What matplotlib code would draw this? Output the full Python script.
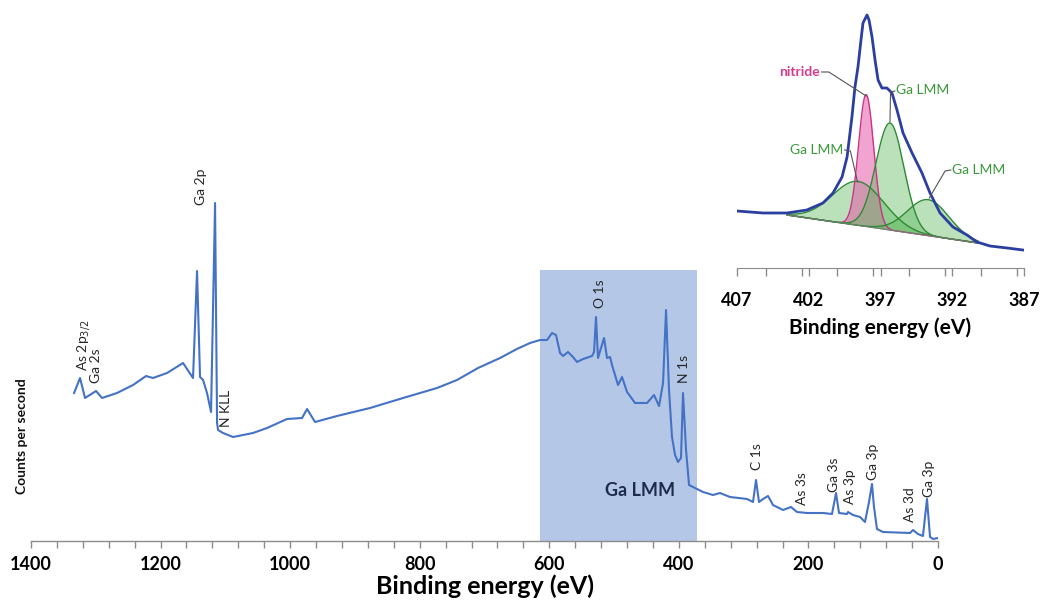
import numpy as np
import matplotlib
matplotlib.use("Agg")
import matplotlib.pyplot as plt
from matplotlib.ticker import MultipleLocator

plt.rcParams['font.family'] = ['Lato', 'DejaVu Sans']

# ---------------- main survey spectrum ----------------
survey_ev = [1333.5, 1324.3, 1316.6, 1299.6, 1290.3, 1267.2, 1242.5, 1222.4, 1211.6, 1190.0,
             1165.3, 1149.9, 1143.7, 1139.1, 1134.4, 1128.3, 1122.1, 1115.9, 1112.8, 1111.3,
             1103.6, 1088.1, 1057.3, 1035.7, 1004.8, 981.6, 973.9, 961.6, 927.6, 876.7,
             825.7, 773.3, 742.4, 710.0, 676.0, 650.0, 629.7, 614.3, 603.5, 595.8, 589.6, 583.4,
             578.8, 571.1, 563.4, 557.2, 547.9, 534.0, 530.9, 527.9, 524.8, 515.5,
             510.9, 506.2, 503.2, 493.9, 487.7, 480.0, 475.4, 467.7, 449.1, 438.3,
             430.6, 424.4, 419.8, 415.2, 410.6, 405.9, 401.3, 396.7, 393.6, 388.9,
             384.3, 375.1, 362.7, 347.3, 336.5, 321.0, 294.8, 285.5, 280.9, 276.3,
             270.1, 262.4, 254.7, 239.2, 226.9, 217.6, 202.2, 177.5, 163.6, 157.4,
             152.8, 140.5, 138.9, 131.2, 120.4, 112.7, 106.5, 101.9, 98.8, 94.2,
             84.9, 43.2, 38.6, 30.9, 23.2, 17.0, 12.3, 7.7, 0.0]
survey_cps = [14800, 16300, 14300, 15000, 14300, 14800, 15600, 16500, 16300, 16800,
              17800, 16300, 27000, 16400, 16100, 14800, 12900, 33800, 11800, 11100,
              10800, 10400, 10800, 11300, 12200, 12300, 13200, 11900, 12500, 13300,
              14300, 15300, 16100, 17300, 18300, 19200, 19800, 20100, 20100, 20800, 20600, 18800,
              18500, 18900, 18400, 17900, 18200, 18500, 18900, 22400, 18300, 20300,
              18300, 18400, 17600, 15600, 16400, 14900, 14500, 13800, 13800, 14600,
              13500, 15800, 23100, 15100, 10400, 8600, 7900, 8300, 14800, 9100,
              5600, 5300, 4900, 4600, 4800, 4400, 4200, 3900, 6100, 3900,
              4200, 4500, 3600, 3100, 3400, 2900, 2800, 2800, 2700, 4800,
              2800, 2700, 2900, 2600, 2400, 1900, 3900, 5700, 3400, 1200,
              900, 800, 1100, 700, 500, 4200, 400, 200, 300]

# peak labels: text, energy, label base (cps)
peak_labels = ["As 2p$_{3/2}$", "Ga 2s", "Ga 2p", "N KLL", "O 1s", "N 1s", "C 1s",
               "As 3s", "Ga 3s", "As 3p", "Ga 3p", "As 3d", "Ga 3p"]
peak_label_ev = [1319.0, 1299.6, 1137.5, 1098.9, 521.7, 392.0, 279.4,
                 209.9, 160.5, 135.8, 100.3, 43.2, 13.9]
peak_label_cps = [17000, 15800, 33600, 11400, 23300, 15800, 7100,
                  3600, 4900, 3700, 6100, 1900, 4400]

lmm_region = (372, 614)
lmm_region_top = 27100

# ---------------- inset: N 1s high-resolution ----------------
hr_ev = [407.0, 405.19, 403.52, 402.13, 401.01, 400.31, 399.68, 399.33, 398.99, 398.78,
         398.57, 398.36, 398.22, 397.94, 397.80, 397.59, 397.38, 397.17, 396.90, 396.55,
         396.20, 395.85, 395.43, 394.80, 394.11, 393.55, 392.85, 391.95, 390.97, 390.28,
         389.37, 388.18, 387.07]
hr_counts = [57, 55, 55, 58, 65, 75, 91, 111, 151, 181,
             201, 228, 245, 253, 248, 231, 208, 188, 180, 180,
             175, 158, 135, 115, 95, 75, 55, 41, 33, 26,
             22, 20, 18]

# fitted components (center eV, height above background, FWHM eV)
comp_names = ["Ga LMM", "nitride", "Ga LMM", "Ga LMM"]
comp_center = [398.55, 398.0, 396.34, 393.67]
comp_height = [44, 132, 107, 36]
comp_fwhm = [4.2, 1.25, 2.3, 3.4]
comp_kind = ["lmm", "nitride", "lmm", "lmm"]

# linear background (eV, counts)
bg_ev = [403.5, 390.2]
bg_counts = [53, 25]

# ---------------- figure ----------------
W, H = 1041, 605
fig = plt.figure(figsize=(W / 100, H / 100), dpi=100)

ax = fig.add_axes([31 / W, 1 - 541 / H, 907 / W, 541 / H])
ax.set_xlim(1400, 0)
ax.set_ylim(0, 54100)
ax.axvspan(lmm_region[0], lmm_region[1], ymin=0, ymax=lmm_region_top / 54100,
           color='#b4c7e7', lw=0, zorder=0)
ax.plot(survey_ev, survey_cps, color='#4472c4', lw=1.5, zorder=2, solid_joinstyle='round')

for t, e, c in zip(peak_labels, peak_label_ev, peak_label_cps):
    ax.text(e, c, t, rotation=90, ha='center', va='bottom', fontsize=10,
            color='#262626', zorder=3)
ax.text(460, 5100, "Ga LMM", ha='center', va='center', fontsize=13, fontweight='bold',
        color='#1f2b4a', zorder=3)

for s in ['left', 'top', 'right']:
    ax.spines[s].set_visible(False)
ax.spines['bottom'].set_color('#8c8c8c')
ax.spines['bottom'].set_linewidth(1.0)
ax.set_yticks([])
ax.xaxis.set_major_locator(MultipleLocator(200))
ax.xaxis.set_minor_locator(MultipleLocator(40))
ax.tick_params(axis='x', which='both', direction='out', length=5, color='#8c8c8c', width=1)
ax.tick_params(axis='x', which='major', labelsize=13, pad=6)
for lab in ax.get_xticklabels():
    lab.set_fontweight('bold')
ax.set_xlabel("Binding energy (eV)", fontsize=18, fontweight='bold', labelpad=1)
ax.patch.set_alpha(0)

fig.text(22 / W, 1 - 436 / H, "Counts per second", rotation=90, ha='center', va='center',
         fontsize=10, fontweight='bold', color='#111111')

# ---------------- inset ----------------
ins = fig.add_axes([737 / W, 1 - 268 / H, 287 / W, 263 / H])
ins.set_xlim(407, 387)
ins.set_ylim(0, 263)
ins.patch.set_alpha(0)

grid = np.linspace(bg_ev[1], bg_ev[0], 400)
bg = np.interp(grid, bg_ev[::-1], bg_counts[::-1])
for c0, h, fw, kind in zip(comp_center, comp_height, comp_fwhm, comp_kind):
    g = h * np.exp(-4 * np.log(2) * ((grid - c0) / fw) ** 2)
    if kind == 'nitride':
        fc, ec, a = '#e45aa8', '#cc3388', 0.55
    else:
        fc, ec, a = '#5cb85c', '#2f8a35', 0.42
    ins.fill_between(grid, bg, bg + g, color=fc, alpha=a, lw=0, zorder=1)
    ins.plot(grid, bg + g, color=ec, lw=1.0, zorder=2)
ins.plot(bg_ev, bg_counts, color='#6d7f6d', lw=0.8, zorder=2)
ins.plot(hr_ev, hr_counts, color='#2b3fa0', lw=2.0, zorder=3, solid_joinstyle='round')

# component labels with leader lines
def leader(xs, ys):
    ins.plot(xs, ys, color='#555555', lw=0.8, zorder=4)

ins.text(401.2, 196, "nitride", ha='right', va='center', fontsize=10, fontweight='bold',
         color='#d23c8e')
leader([401.1, 400.6, 398.0], [196, 196, 172])
ins.text(395.9, 178, "Ga LMM", ha='left', va='center', fontsize=10, color='#3a9a3a')
leader([396.0, 396.3, 396.34], [177, 176, 146])
ins.text(399.6, 118, "Ga LMM", ha='right', va='center', fontsize=10, color='#3a9a3a')
leader([399.5, 399.1, 398.6], [118, 117, 86])
ins.text(392.0, 98, "Ga LMM", ha='left', va='center', fontsize=10, color='#3a9a3a')
leader([392.1, 392.5, 393.6], [98, 97, 70])

for s in ['left', 'top', 'right']:
    ins.spines[s].set_visible(False)
ins.spines['bottom'].set_color('#8c8c8c')
ins.set_yticks([])
ins.set_xticks([407, 402, 397, 392, 387])
ins.xaxis.set_minor_locator(MultipleLocator(2.5))
ins.tick_params(axis='x', which='both', direction='out', length=6, color='#8c8c8c', width=1)
ins.tick_params(axis='x', which='major', labelsize=13, pad=11)
for lab in ins.get_xticklabels():
    lab.set_fontweight('bold')
ins.set_xlabel("Binding energy (eV)", fontsize=15, fontweight='bold', labelpad=6)

fig.savefig("out.png", dpi=100)
